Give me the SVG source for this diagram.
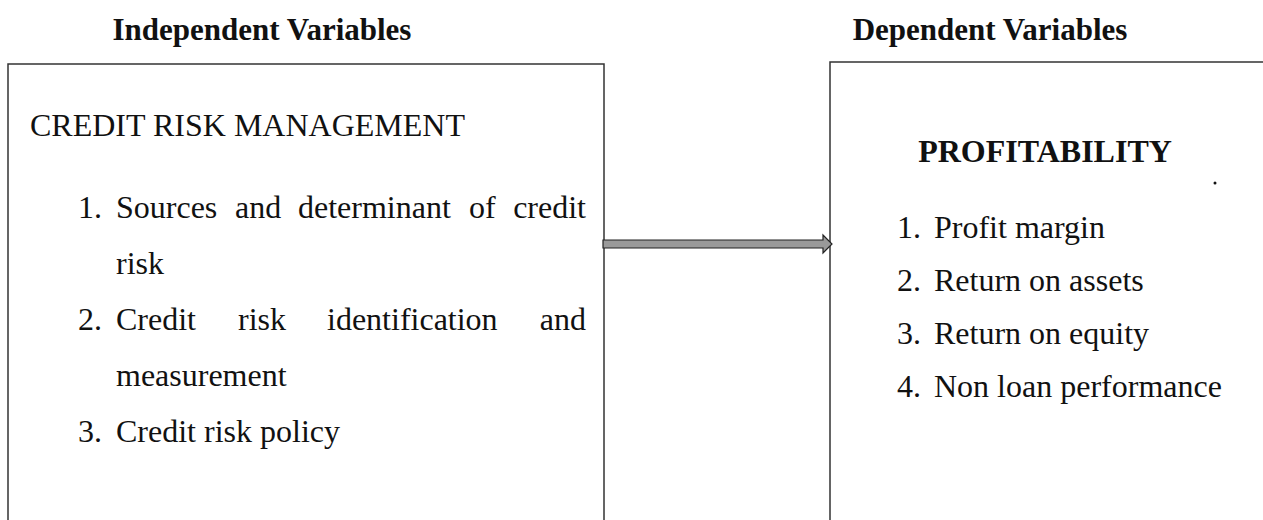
<svg xmlns="http://www.w3.org/2000/svg" width="1263" height="520" viewBox="0 0 1263 520">
<style>
.t{font-family:"Liberation Serif","Times New Roman",serif;fill:#111;font-size:32px}
.h{font-family:"Liberation Serif","Times New Roman",serif;fill:#111;font-size:31px;font-weight:bold}
.b{font-weight:bold}
.box{fill:none;stroke:#333;stroke-width:1.5}
</style>
<rect width="1263" height="520" fill="#fff"/>
<text class="h" x="262" y="40" text-anchor="middle">Independent Variables</text>
<text class="h" x="990" y="40" text-anchor="middle">Dependent Variables</text>
<g id="credit-risk-management">
<rect class="box" x="8" y="64" width="596" height="480"/>
<text class="t" x="30" y="136">CREDIT RISK MANAGEMENT</text>
<text class="t" x="78" y="218">1.</text>
<text class="t" x="116" y="218">Sources</text>
<text class="t" x="235" y="218">and</text>
<text class="t" x="298" y="218">determinant</text>
<text class="t" x="469" y="218">of</text>
<text class="t" x="586" y="218" text-anchor="end">credit</text>
<text class="t" x="116" y="274">risk</text>
<text class="t" x="78" y="330">2.</text>
<text class="t" x="116" y="330">Credit</text>
<text class="t" x="238" y="330">risk</text>
<text class="t" x="327" y="330">identification</text>
<text class="t" x="586" y="330" text-anchor="end">and</text>
<text class="t" x="116" y="386">measurement</text>
<text class="t" x="78" y="442">3.</text>
<text class="t" x="116" y="442">Credit risk policy</text>
</g>
<g id="profitability">
<rect class="box" x="830" y="62" width="460" height="480"/>
<text class="t b" x="1045" y="162" text-anchor="middle">PROFITABILITY</text>
<circle cx="1215" cy="183" r="1.5" fill="#111"/>
<text class="t" x="897" y="238">1.</text>
<text class="t" x="934" y="238">Profit margin</text>
<text class="t" x="897" y="291">2.</text>
<text class="t" x="934" y="291">Return on assets</text>
<text class="t" x="897" y="344">3.</text>
<text class="t" x="934" y="344">Return on equity</text>
<text class="t" x="897" y="397">4.</text>
<text class="t" x="934" y="397">Non loan performance</text>
</g>
<g id="connectors">
<path d="M603,240 H823 V235 L832,244 L823,253 V248 H603 Z" fill="#9a9a9a" stroke="#222" stroke-width="1.2"/>
</g>
</svg>
